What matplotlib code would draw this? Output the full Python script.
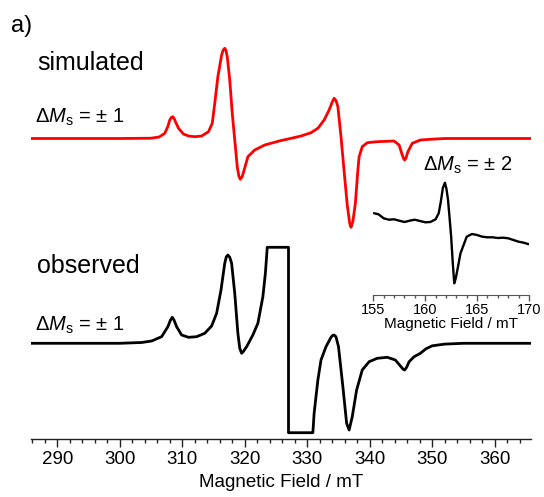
import matplotlib
matplotlib.use("Agg")
import matplotlib.pyplot as plt
from matplotlib.ticker import MultipleLocator

plt.rcParams['font.family'] = ['Liberation Sans', 'DejaVu Sans']
plt.rcParams['mathtext.fontset'] = 'custom'
plt.rcParams['mathtext.rm'] = 'Liberation Sans'
plt.rcParams['mathtext.it'] = 'Liberation Sans:italic'

# ---------------- data ----------------
# simulated spectrum (field in mT, intensity in arbitrary units)
sim_field = [285.8, 300.0, 305.0, 306.3, 307.2, 307.7, 308.0, 308.25, 308.5, 308.7,
             308.9, 309.4, 310.2, 311.0, 312.0, 313.1, 314.2, 314.8, 315.2, 315.7,
             316.3, 316.55, 316.8, 317.0, 317.2, 317.6, 318.0, 318.4, 318.8, 319.05,
             319.3, 319.6, 319.9, 320.5, 321.6, 323.2, 325.7, 327.3, 329.0, 330.6,
             331.7, 332.7, 333.5, 334.0, 334.3, 334.6, 334.9, 335.4, 335.9, 336.4,
             336.8, 337.0, 337.3, 337.7, 338.1, 338.3, 338.8, 339.6, 341.2, 343.9,
             344.7, 345.2, 345.45, 345.6, 345.8, 346.1, 346.8, 348.1, 349.7, 352.0,
             365.8]
sim_int = [0.0, 0.0, 0.3, 1.5, 5.2, 12.0, 18.5, 21.0, 21.8, 20.0,
           17.0, 10.2, 4.5, 2.5, 1.8, 2.5, 6.8, 15.2, 35.2, 61.8,
           83.5, 88.5, 90.2, 88.0, 81.8, 58.5, 25.2, -1.5, -28.2, -37.5,
           -40.8, -38.0, -31.5, -18.2, -11.5, -6.5, -2.2, 0.0, 2.5, 5.8,
           10.2, 18.5, 28.5, 36.5, 40.2, 38.0, 31.8, 1.8, -33.0, -66.5,
           -85.0, -88.8, -83.0, -64.8, -31.5, -18.2, -8.2, -4.2, -3.2, -2.5,
           -6.5, -16.5, -20.5, -21.5, -19.5, -13.2, -4.8, -1.5, -0.8, 0.0,
           0.0]

# observed spectrum (clipped by the recorder range)
obs_field = [285.8, 300.0, 303.5, 305.1, 306.7, 307.7, 308.1, 308.4, 308.7, 309.1,
             309.9, 311.0, 312.3, 313.6, 314.7, 315.5, 316.2, 316.8, 317.05, 317.3,
             317.6, 317.9, 318.4, 318.9, 319.2, 319.5, 319.8, 320.3, 321.3, 322.1,
             322.9, 323.3, 323.6, 327.0, 327.0, 330.9, 331.1, 331.7, 332.2, 333.0,
             333.8, 334.05, 334.3, 334.6, 335.0, 335.7, 336.3, 336.7, 337.2, 337.9,
             338.8, 339.9, 341.2, 342.8, 344.1, 345.0, 345.35, 345.6, 345.9, 346.3,
             347.1, 348.1, 349.0, 350.0, 352.0, 355.0, 365.8]
obs_int = [0.0, 0.0, 0.8, 2.3, 6.6, 16.6, 23.0, 26.0, 23.0, 16.6,
           8.3, 6.0, 6.6, 10.0, 17.3, 30.0, 53.3, 80.0, 86.5, 88.3,
           86.0, 80.0, 50.0, 10.0, -5.0, -10.0, -8.0, -3.4, 8.3, 20.0,
           46.6, 70.0, 96.0, 96.0, -89.4, -89.4, -70.0, -36.7, -16.7, -3.4,
           6.0, 7.8, 8.3, 6.5, -3.4, -43.4, -80.0, -86.7, -73.4, -46.7,
           -26.7, -18.4, -15.0, -14.0, -16.7, -23.4, -26.0, -26.7, -24.0, -18.4,
           -13.4, -10.0, -5.5, -2.5, -0.8, 0.0, 0.0]

# half-field (Delta Ms = +-2) region, observed
hf_field = [155.1, 155.5, 156.0, 156.5, 157.0, 157.5, 158.0, 158.5, 159.0, 159.5,
            160.0, 160.5, 161.0, 161.3, 161.5, 161.7, 161.9, 162.05, 162.2, 162.35,
            162.5, 162.65, 162.8, 162.95, 163.1, 163.4, 163.7, 164.0, 164.5, 165.0,
            165.5, 166.0, 166.5, 167.0, 167.5, 168.0, 168.5, 169.0, 169.5, 169.9]
hf_int = [6.7, 5.7, 1.7, 0.3, 0.7, -0.7, -2.0, -0.7, 0.3, -1.0,
          -2.3, -2.0, 0.7, 6.7, 18.0, 32.0, 37.3, 31.0, 20.0, 2.0,
          -16.7, -42.0, -63.3, -58.0, -50.0, -33.3, -25.0, -16.7, -14.0, -15.0,
          -16.7, -17.3, -17.3, -18.0, -17.7, -18.3, -20.0, -21.7, -22.7, -24.0]

main_ticks = [290, 300, 310, 320, 330, 340, 350, 360]
inset_ticks = [155, 160, 165, 170]

# ---------------- layout ----------------
W, H = 544, 497
fig = plt.figure(figsize=(W / 100, H / 100), dpi=100)

def fx(px):
    return px / W

def fy(py):
    return 1 - py / H

ax_left, ax_right, ax_bottom, ax_top = 31, 531, 439, 20
ax = fig.add_axes([fx(ax_left), fy(ax_bottom), (ax_right - ax_left) / W,
                   (ax_bottom - ax_top) / H])
sim_offset = ax_bottom - 138.5
obs_offset = ax_bottom - 343.3
ax.plot(sim_field, [v + sim_offset for v in sim_int], color='#ff0000', lw=2.0,
        solid_joinstyle='round', solid_capstyle='round')
ax.plot(obs_field, [v + obs_offset for v in obs_int], color='black', lw=2.0,
        solid_joinstyle='round')
ax.set_xlim(285.8, 365.8)
ax.set_ylim(0, ax_bottom - ax_top)
for s in ['top', 'left', 'right']:
    ax.spines[s].set_visible(False)
ax.spines['bottom'].set_color('#222222')
ax.spines['bottom'].set_linewidth(1.0)
ax.set_yticks([])
ax.set_xticks(main_ticks)
ax.xaxis.set_minor_locator(MultipleLocator(2))
ax.tick_params(axis='x', which='major', direction='out', length=5.5, width=1.0,
               color='#222222', labelsize=13.5, pad=3.5)
ax.tick_params(axis='x', which='minor', direction='out', length=3, width=1.0,
               color='#222222')
ax.set_xlabel('Magnetic Field / mT', fontsize=13.5, labelpad=4)
ax.patch.set_alpha(0)

# inset
in_left, in_right, in_bottom, in_top = 373.3, 529.0, 295, 170
ins = fig.add_axes([fx(in_left), fy(in_bottom), (in_right - in_left) / W,
                    (in_bottom - in_top) / H])
hf_offset = in_bottom - 220
ins.plot(hf_field, [v + hf_offset for v in hf_int], color='black', lw=1.7,
         solid_joinstyle='round')
ins.set_xlim(155, 170)
ins.set_ylim(0, in_bottom - in_top)
for s in ['top', 'left', 'right']:
    ins.spines[s].set_visible(False)
ins.spines['bottom'].set_color('#555555')
ins.set_yticks([])
ins.set_xticks(inset_ticks)
ins.xaxis.set_minor_locator(MultipleLocator(1))
ins.tick_params(axis='x', which='major', direction='out', length=4.5, width=1.0,
                color='#555555', labelsize=10.5, pad=1.5)
ins.tick_params(axis='x', which='minor', direction='out', length=2.5, width=1.0,
                color='#555555')
ins.set_xlabel('Magnetic Field / mT', fontsize=11, labelpad=0)
ins.patch.set_alpha(0)

# annotations
fig.text(fx(11), fy(31.7), 'a)', fontsize=17, va='baseline', ha='left')
fig.text(fx(37), fy(69.5), 'simulated', fontsize=18, va='baseline', ha='left')
fig.text(fx(35), fy(122.7), r'$\Delta M_{\mathrm{s}}$ = ± 1', fontsize=14.5,
         va='baseline', ha='left')
fig.text(fx(37), fy(272.7), 'observed', fontsize=18, va='baseline', ha='left')
fig.text(fx(35), fy(331.0), r'$\Delta M_{\mathrm{s}}$ = ± 1', fontsize=14.5,
         va='baseline', ha='left')
fig.text(fx(423), fy(171.0), r'$\Delta M_{\mathrm{s}}$ = ± 2', fontsize=14.5,
         va='baseline', ha='left')

fig.savefig('out.png', dpi=100)
